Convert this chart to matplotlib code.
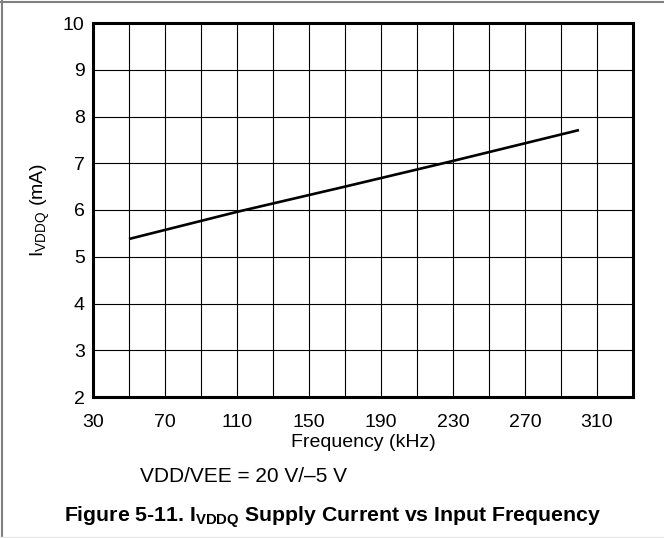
import matplotlib.pyplot as plt
from matplotlib.lines import Line2D

plt.rcParams['font.family'] = ['Liberation Sans', 'DejaVu Sans']
plt.rcParams['mathtext.fontset'] = 'custom'
plt.rcParams['mathtext.rm'] = 'Liberation Sans'

# data
freq_khz = [50, 110, 170, 230, 300]
i_vddq_ma = [5.38, 5.96, 6.50, 7.05, 7.71]

x_ticks = list(range(30, 331, 20))
x_labels = [str(v) if (v - 30) % 40 == 0 and v < 330 else "" for v in x_ticks]
y_ticks = list(range(2, 11))


def main():
    fig = plt.figure(figsize=(6.64, 5.38), dpi=100)
    ax = fig.add_axes([93 / 664, 1 - 397 / 538, 540 / 664, 374 / 538])

    ax.plot(freq_khz, i_vddq_ma, color="black", lw=1.9, solid_capstyle="butt")

    ax.set_xlim(30, 330)
    ax.set_ylim(2, 10)
    ax.set_xticks(x_ticks)
    ax.set_xticklabels(x_labels)
    ax.set_yticks(y_ticks)
    ax.tick_params(length=0, labelsize=14)
    ax.tick_params(axis="x", pad=12)
    ax.tick_params(axis="y", pad=6)
    ax.grid(True, color="black", lw=0.8)
    ax.set_axisbelow(True)
    for s in ax.spines.values():
        s.set_linewidth(2.2)

    ax.set_xlabel("Frequency (kHz)", fontsize=14, labelpad=2.5)
    ax.set_ylabel(r"I$_{\mathregular{VDDQ}}$ (mA)", fontsize=14, labelpad=8)

    fig.text(243 / 664, 1 - 477 / 538, "VDD/VEE = 20 V/\u20135 V",
             ha="center", va="center", fontsize=15)
    fig.text(0.5, 1 - 517 / 538,
             r"Figure 5-11. I$_{\mathregular{VDDQ}}$ Supply Current vs Input Frequency",
             ha="center", va="center", fontsize=15.3, fontweight="bold")

    # page frame
    fig.add_artist(Line2D([1.5 / 664, 1.5 / 664], [0, 1], color="#808080", lw=1.5))
    fig.add_artist(Line2D([0, 1], [1 - 2 / 538, 1 - 2 / 538], color="#808080", lw=1.5))
    fig.add_artist(Line2D([0, 1], [1.5 / 538, 1.5 / 538], color="#e8e8e8", lw=1))

    fig.savefig("out.png", dpi=100)


if __name__ == "__main__":
    main()
